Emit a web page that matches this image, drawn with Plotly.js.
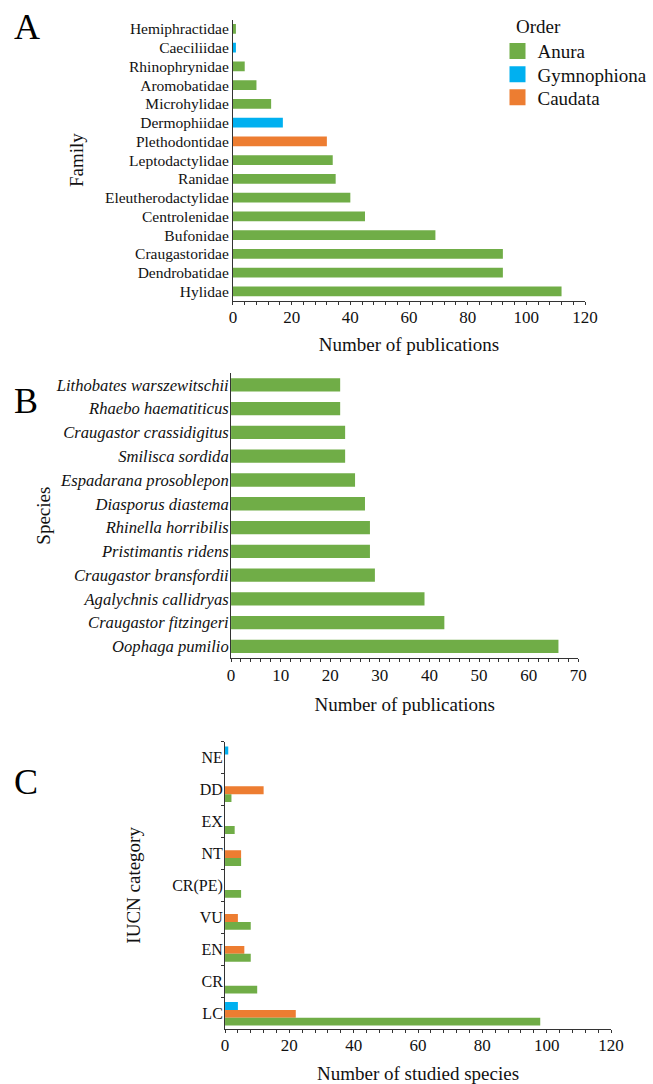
<!DOCTYPE html>
<html>
<head>
<meta charset="utf-8">
<script src="https://cdn.plot.ly/plotly-3.0.1.min.js"></script>
<style>html,body{margin:0;padding:0;background:#fff;overflow:hidden;width:653px;height:1084px;}#chart{width:653px;height:1084px;}</style>
</head>
<body>
<div id="chart"></div>
<script>
// Panel A: families (top to bottom as displayed)
var families = ['Hemiphractidae','Caeciliidae','Rhinophrynidae','Aromobatidae','Microhylidae','Dermophiidae','Plethodontidae','Leptodactylidae','Ranidae','Eleutherodactylidae','Centrolenidae','Bufonidae','Craugastoridae','Dendrobatidae','Hylidae'];
var familyPubs = [1, 1, 4, 8, 13, 17, 32, 34, 35, 40, 45, 69, 92, 92, 112];
var familyOrder = ['Anura','Gymnophiona','Anura','Anura','Anura','Gymnophiona','Caudata','Anura','Anura','Anura','Anura','Anura','Anura','Anura','Anura'];

// Panel B: species (top to bottom as displayed)
var species = ['Lithobates warszewitschii','Rhaebo haematiticus','Craugastor crassidigitus','Smilisca sordida','Espadarana prosoblepon','Diasporus diastema','Rhinella horribilis','Pristimantis ridens','Craugastor bransfordii','Agalychnis callidryas','Craugastor fitzingeri','Oophaga pumilio'];
var speciesPubs = [22, 22, 23, 23, 25, 27, 28, 28, 29, 39, 43, 66];

// Panel C: IUCN categories (top to bottom as displayed)
var iucn = ['NE','DD','EX','NT','CR(PE)','VU','EN','CR','LC'];
var iucnGymnophiona = [1, 0, 0, 0, 0, 0, 0, 0, 4];
var iucnCaudata = [0, 12, 0, 5, 0, 4, 6, 0, 22];
var iucnAnura = [0, 2, 3, 5, 5, 8, 8, 10, 98];

var orders = ['Anura','Gymnophiona','Caudata'];
var colors = {Anura:'#70AD47', Gymnophiona:'#00B0F0', Caudata:'#ED7D31'};
var legendIds = {Anura:'legend', Gymnophiona:'legend2', Caudata:'legend3'};

var FONT = "'Liberation Serif', 'Times New Roman', serif";
var traces = [];

orders.forEach(function(o){
  var xs = [], ys = [];
  families.forEach(function(f, i){ if (familyOrder[i] === o) { xs.push(familyPubs[i]); ys.push(f); } });
  traces.push({type:'bar', orientation:'h', x:xs, y:ys, name:o, showlegend:false, legendgroup:o,
    marker:{color:colors[o], line:{width:0}}, width:0.52, xaxis:'x', yaxis:'y'});
  // legend entry for the order (no data of its own)
  traces.push({type:'scatter', mode:'markers', x:[null], y:[null], name:o, legendgroup:o, legend:legendIds[o],
    showlegend:true, marker:{symbol:'square', size:16, color:colors[o], line:{width:0}}, xaxis:'x', yaxis:'y', hoverinfo:'skip'});
});

traces.push({type:'bar', orientation:'h', x:speciesPubs, y:species, name:'Anura', showlegend:false,
  marker:{color:colors.Anura, line:{width:0}}, width:0.56, xaxis:'x2', yaxis:'y2'});

var cSeries = [['Gymnophiona', iucnGymnophiona, -0.345], ['Caudata', iucnCaudata, -0.1], ['Anura', iucnAnura, 0.145]];
cSeries.forEach(function(s){
  traces.push({type:'bar', orientation:'h', x:s[1], y:iucn, name:s[0], showlegend:false, legendgroup:s[0],
    marker:{color:colors[s[0]], line:{width:0}}, width:0.245, offset:s[2], xaxis:'x3', yaxis:'y3'});
});

var axisLine = {showline:true, linecolor:'#333', linewidth:1, zeroline:false, showgrid:false};
function xAx(domain, anchor, range, dtick, mdtick, title, standoff){
  return Object.assign({}, axisLine, {domain:domain, anchor:anchor, range:range, dtick:dtick,
    ticks:'outside', ticklen:3, tickcolor:'#333', tickwidth:1, ticklabelstandoff:-2,
    minor:{dtick:mdtick, ticks:'outside', ticklen:3, tickcolor:'#333', tickwidth:1, showgrid:false},
    tickfont:{family:FONT, size:17, color:'#111'},
    title:{text:title, font:{family:FONT, size:19, color:'#111'}, standoff:standoff}});
}
function leg(yc){
  return {x:497.5/653, y:1-yc/1084, xanchor:'left', yanchor:'middle', bgcolor:'rgba(0,0,0,0)',
    font:{family:FONT, size:19, color:'#111'}};
}

var layout = {
  width:653, height:1084,
  margin:{l:0, r:0, t:0, b:0},
  paper_bgcolor:'#fff', plot_bgcolor:'#fff',
  barmode:'overlay',
  font:{family:FONT, color:'#111'},
  showlegend:true,
  legend: leg(51.2), legend2: leg(74.3), legend3: leg(97.4),
  xaxis: xAx([0.3568, 0.8959], 'y', [0, 120], 20, 4, 'Number of publications', 11),
  yaxis: Object.assign({}, axisLine, {domain:[0.7226, 0.982], anchor:'x', type:'category',
    categoryorder:'array', categoryarray:families, autorange:'reversed', ticks:'',
    tickmode:'linear', tick0:0, dtick:1,
    tickfont:{family:FONT, size:15.5, color:'#111'},
    title:{text:'Family', font:{family:FONT, size:19, color:'#111'}, standoff:16}}),
  xaxis2: xAx([0.3538, 0.8856], 'y2', [0, 70], 10, 2, 'Number of publications', 13.5),
  yaxis2: Object.assign({}, axisLine, {domain:[0.3927, 0.6559], anchor:'x2', type:'category',
    categoryorder:'array', categoryarray:species, autorange:'reversed', ticks:'', ticklabelstandoff:-2,
    tickmode:'linear', tick0:0, dtick:1,
    tickfont:{family:FONT, size:16.6, color:'#111', style:'italic'},
    title:{text:'Species', font:{family:FONT, size:19, color:'#111'}, standoff:0}}),
  xaxis3: xAx([0.3446, 0.9357], 'y3', [0, 120], 20, 4, 'Number of studied species', 14),
  yaxis3: Object.assign({}, axisLine, {domain:[0.0507, 0.3158], anchor:'x3', type:'category',
    categoryorder:'array', categoryarray:iucn, autorange:'reversed', ticks:'outside', tickson:'boundaries',
    tickmode:'linear', tick0:0, dtick:1,
    ticklen:3, tickcolor:'#333', ticklabelstandoff:-2, tickfont:{family:FONT, size:16, color:'#111'},
    title:{text:'IUCN category', font:{family:FONT, size:19, color:'#111'}, standoff:26}}),
  annotations:[
    {text:'A', xref:'paper', yref:'paper', x:12/653, y:1-27/1084, xanchor:'left', yanchor:'middle', showarrow:false, font:{family:FONT, size:36, color:'#000'}},
    {text:'B', xref:'paper', yref:'paper', x:12/653, y:1-401/1084, xanchor:'left', yanchor:'middle', showarrow:false, font:{family:FONT, size:36, color:'#000'}},
    {text:'C', xref:'paper', yref:'paper', x:12/653, y:1-782/1084, xanchor:'left', yanchor:'middle', showarrow:false, font:{family:FONT, size:36, color:'#000'}},
    {text:'Order', xref:'paper', yref:'paper', x:514/653, y:1-26.4/1084, xanchor:'left', yanchor:'middle', showarrow:false, font:{family:FONT, size:19, color:'#111'}}
  ]
};

Plotly.newPlot('chart', traces, layout, {staticPlot:true, displayModeBar:false});
</script>
</body>
</html>
